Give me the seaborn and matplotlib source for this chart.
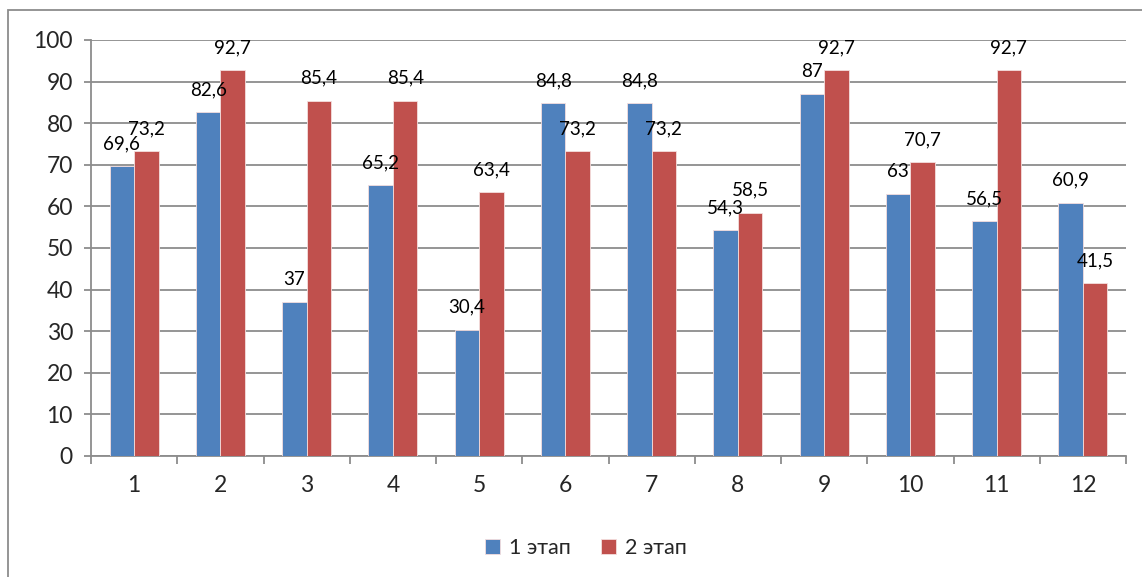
import matplotlib
matplotlib.use("Agg")
import matplotlib.pyplot as plt
from matplotlib.patches import Rectangle
from matplotlib.ticker import MultipleLocator, FixedLocator
import seaborn as sns
import pandas as pd

categories = ["1", "2", "3", "4", "5", "6", "7", "8", "9", "10", "11", "12"]
stage1 = [69.6, 82.6, 37, 65.2, 30.4, 84.8, 84.8, 54.3, 87, 63, 56.5, 60.9]
stage2 = [73.2, 92.7, 85.4, 85.4, 63.4, 73.2, 73.2, 58.5, 92.7, 70.7, 92.7, 41.5]
series_names = ["1 этап", "2 этап"]
colors = ["#4f81bd", "#c0504d"]

df = pd.DataFrame({
    "cat": categories * 2,
    "value": stage1 + stage2,
    "series": [series_names[0]] * len(categories) + [series_names[1]] * len(categories),
})

sns.set_style("white")
plt.rcParams["font.family"] = ["Lato", "DejaVu Sans"]

fig = plt.figure(figsize=(11.42, 5.77), dpi=100)
ax = fig.add_axes([91 / 1142, 1 - 456 / 577, (1126 - 91) / 1142, (456 - 40) / 577])

sns.barplot(data=df, x="cat", y="value", hue="series", order=categories,
            hue_order=series_names, palette=colors, width=0.57, ax=ax,
            saturation=1, edgecolor="#f4dede", linewidth=0.6, errorbar=None,
            legend=True, zorder=3)

def fmt(v):
    return (f"{v:g}").replace(".", ",")

for cont in ax.containers:
    vals = [b.get_height() for b in cont]
    ax.bar_label(cont, labels=[fmt(v) for v in vals], padding=10,
                 fontsize=13.5, color="#000000")

ax.set_ylim(0, 100)
ax.set_xlim(-0.5, len(categories) - 0.5)
ax.yaxis.set_major_locator(MultipleLocator(10))
ax.grid(axis="y", color="#8c8c8c", linewidth=1.3, zorder=0)
ax.grid(axis="x", visible=False)
ax.set_axisbelow(True)
ax.set_xlabel("")
ax.set_ylabel("")

for s in ["top", "right"]:
    ax.spines[s].set_visible(False)
for s in ["left", "bottom"]:
    ax.spines[s].set_color("#8c8c8c")
    ax.spines[s].set_linewidth(1.3)

ax.tick_params(axis="y", which="major", length=5, width=1.3, color="#8c8c8c",
               labelsize=16.5, pad=8, left=True)
ax.tick_params(axis="x", which="major", length=0, labelsize=16.5, pad=14)
ax.xaxis.set_minor_locator(FixedLocator([i - 0.5 for i in range(len(categories) + 1)]))
ax.tick_params(axis="x", which="minor", length=6, width=1.3, color="#8c8c8c",
               bottom=True)

leg = ax.legend(loc="center", bbox_to_anchor=(586 / 1142, 1 - 548 / 577),
                bbox_transform=fig.transFigure, ncol=2, frameon=False,
                fontsize=15.5, handlelength=0.7, handleheight=0.7,
                handletextpad=0.4, columnspacing=1.4)

fig.patches.append(Rectangle((8 / 1142, -0.05), 1.1, 1 - 10 / 577 + 0.05,
                             transform=fig.transFigure, fill=False,
                             edgecolor="#8c8c8c", linewidth=1.3))

fig.savefig("out.png", dpi=100, facecolor="white")
